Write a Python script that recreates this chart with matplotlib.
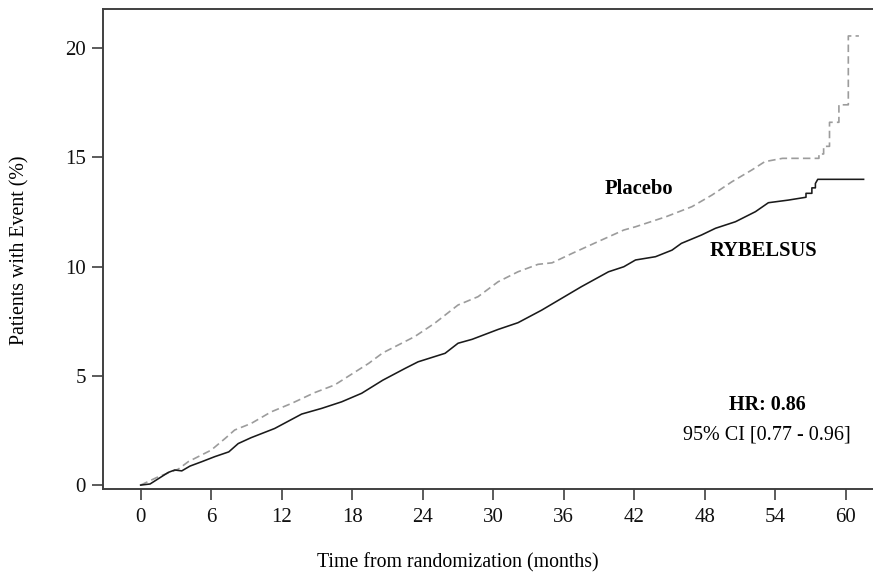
import matplotlib
matplotlib.use("Agg")
import matplotlib.pyplot as plt

# cumulative incidence (months, % of patients)
rybelsus_months = [0, 0.8, 2.35, 2.9, 3.5, 4.2, 5.2, 6.3, 7.5, 8.3, 9.4, 11.4, 13.7, 15.4,
                   17.1, 18.8, 20.6, 22.5, 23.6, 25.9, 27.0, 28.2, 30.4, 32.1, 34.1, 35.8,
                   37.5, 39.8, 41.1, 42.1, 43.8, 45.2, 46.0, 47.7, 48.9, 50.6, 52.3, 53.4,
                   55.1, 56.6, 56.6, 57.1, 57.1, 57.4, 57.4, 57.6, 61.5]
rybelsus_pct = [0, 0.05, 0.58, 0.69, 0.65, 0.87, 1.07, 1.30, 1.52, 1.90, 2.17, 2.59, 3.25, 3.51,
                3.81, 4.20, 4.80, 5.34, 5.64, 6.03, 6.49, 6.67, 7.12, 7.43, 8.00, 8.54,
                9.08, 9.76, 9.99, 10.30, 10.45, 10.75, 11.06, 11.44, 11.75, 12.05, 12.51, 12.92,
                13.04, 13.17, 13.35, 13.35, 13.60, 13.60, 13.80, 13.99, 13.99]

placebo_months = [0, 1.5, 3.2, 4.05, 6.0, 7.2, 8.0, 9.4, 11.1, 12.85, 14.8, 16.5, 17.7, 19.4,
                  20.6, 23.3, 25.0, 27.0, 28.7, 30.4, 32.1, 33.8, 35.0, 36.7, 38.7, 41.1,
                  42.1, 44.7, 46.9, 48.6, 50.3, 52.0, 53.1, 54.6, 57.7, 57.7, 58.1, 58.1,
                  58.6, 58.6, 59.4, 59.4, 60.2, 60.2, 61.1]
placebo_pct = [0, 0.38, 0.73, 1.07, 1.60, 2.14, 2.52, 2.82, 3.35, 3.74, 4.23, 4.58, 4.99, 5.57,
               6.05, 6.79, 7.40, 8.24, 8.62, 9.30, 9.76, 10.10, 10.17, 10.60, 11.09, 11.67,
               11.82, 12.28, 12.74, 13.27, 13.88, 14.42, 14.80, 14.95, 14.95, 15.15, 15.15, 15.50,
               15.50, 16.60, 16.60, 17.40, 17.40, 20.55, 20.55]

x_ticks = [0, 6, 12, 18, 24, 30, 36, 42, 48, 54, 60]
y_ticks = [0, 5, 10, 15, 20]

plt.rcParams["font.family"] = ["Liberation Serif", "DejaVu Serif"]

fig = plt.figure(figsize=(8.73, 5.76), dpi=100)
ax = fig.add_axes([0.1176, 0.151, 0.8824, 0.834])

ax.plot(placebo_months, placebo_pct, color="#9c9c9c", lw=1.2, linestyle=(0, (4.5, 2.5)))
ax.plot(rybelsus_months, rybelsus_pct, color="#1a1a1a", lw=1.15)

ax.set_xlim(-3.23, 62.3)
ax.set_ylim(-0.18, 21.8)
ax.set_xticks(x_ticks)
ax.set_yticks(y_ticks)

ax.spines["right"].set_visible(False)
for side in ["left", "bottom", "top"]:
    ax.spines[side].set_linewidth(1.4)
    ax.spines[side].set_color("#404040")
ax.tick_params(direction="out", length=8, width=1.2, color="#404040",
               labelsize=15, labelcolor="#111111")
ax.tick_params(axis="x", pad=6)
ax.tick_params(axis="y", pad=4)

ax.text(42.4, 13.55, "Placebo", fontsize=14.8, fontweight="bold", ha="center", va="center")
ax.text(53.0, 10.72, "RYBELSUS", fontsize=14.8, fontweight="bold", ha="center", va="center")
ax.text(53.3, 3.66, "HR: 0.86", fontsize=14.5, fontweight="bold", ha="center", va="center")
ax.text(53.3, 2.29, "95% CI [0.77 - 0.96]", fontsize=14.5, ha="center", va="center")

fig.text(458 / 873, 1 - 563 / 576, "Time from randomization (months)", fontsize=14.3,
         ha="center", va="center")
fig.text(20 / 873, 1 - 250 / 576, "Patients with Event (%)", fontsize=14.3, rotation=90,
         ha="center", va="center")

fig.savefig("out.png", dpi=100)
